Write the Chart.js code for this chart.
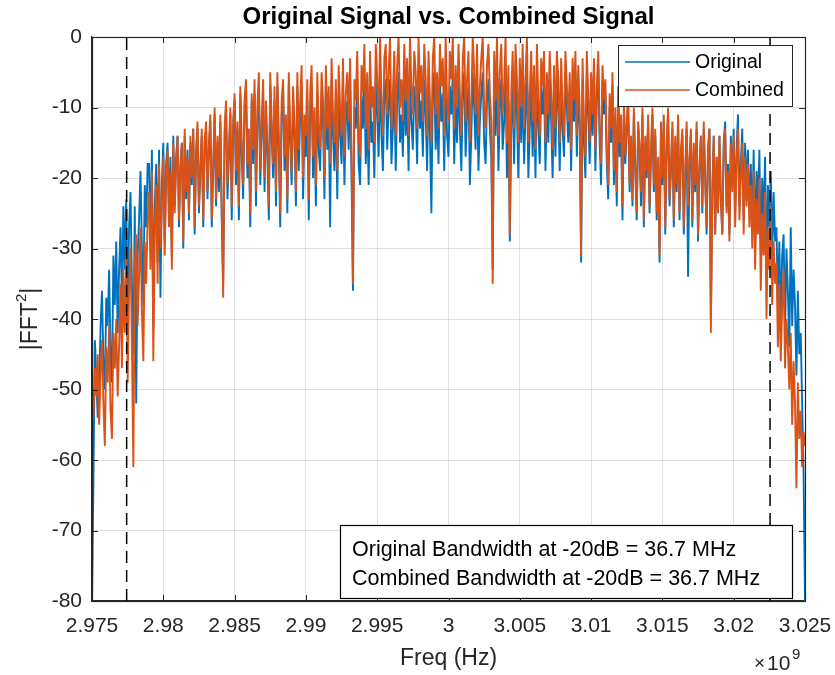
<!DOCTYPE html>
<html>
<head>
<meta charset="utf-8">
<script src="https://cdn.jsdelivr.net/npm/chart.js@4.4.1/dist/chart.umd.min.js"></script>
<style>
  body { margin: 0; background: #fff; }
  #wrap { width: 835px; height: 675px; }
</style>
</head>
<body>
<div id="wrap"><canvas id="fftChart" width="835" height="675"></canvas></div>
<script>
// frequency grid (FFT bins), Hz
var freqStart = 2.975e9;
var freqStep = 0.1e6;

// |FFT^2| in dB, original signal (2 MHz per row)
var original = [
  -80,-63,-43,-48,-54,-50,-41,-36,-46,-50,-37,-41,-33,-45,-49,-31,-38,-29,-42,-33,
  -27,-38,-24,-33,-23,-40,-27,-22,-35,-45,-24,-52,-31,-26,-19,-30,-38,-21,-27,-18,
  -18,-29,-16,-41,-24,-18,-32,-16,-37,-21,-15,-29,-18,-15,-26,-17,-31,-14,-24,-17,
  -14,-27,-18,-15,-30,-14,-23,-16,-26,-15,-21,-13,-28,-17,-13,-25,-19,-14,-27,-15,
  -13,-23,-16,-12,-27,-19,-11,-24,-15,-22,-12,-26,-35,-14,-10,-23,-17,-11,-26,-13,
  -9,-21,-13,-26,-8,-17,-23,-10,-7,-20,-15,-27,-9,-18,-8,-24,-12,-7,-21,-14,
  -8,-22,-11,-17,-26,-7,-14,-20,-9,-24,-7,-16,-27,-11,-8,-19,-13,-25,-7,-15,
  -21,-9,-14,-24,-7,-19,-11,-7,-23,-13,-17,-9,-26,-11,-7,-20,-13,-24,-8,-16,
  -19,-8,-12,-23,-7,-16,-10,-27,-6,-14,-19,-9,-23,-8,-14,-18,-7,-21,-12,-9,
  -16,-7,-20,-36,-10,-13,-6,-18,-21,-8,-13,-6,-18,-10,-21,-7,-15,-12,-20,-6,
  -11,-17,-5,-14,-19,-8,-6,-16,-10,-6,-18,-13,-7,-19,-9,-5,-15,-11,-17,-6,
  -14,-8,-19,-6,-12,-16,-7,-10,-18,-5,-13,-9,-17,-6,-11,-19,-7,-14,-25,-8,
  -5,-16,-10,-18,-6,-12,-8,-19,-6,-14,-17,-7,-11,-5,-18,-9,-15,-6,-13,-19,
  -8,-5,-17,-11,-7,-21,-14,-5,-10,-16,-6,-19,-12,-8,-5,-15,-18,-9,-6,-13,
  -17,-33,-7,-14,-5,-19,-10,-6,-16,-12,-5,-20,-9,-29,-13,-7,-18,-6,-11,-20,
  -8,-15,-6,-18,-11,-5,-20,-13,-7,-17,-9,-20,-6,-13,-18,-7,-11,-6,-19,-9,
  -15,-6,-12,-20,-8,-17,-6,-10,-19,-7,-13,-17,-5,-10,-15,-8,-19,-6,-12,-5,
  -17,-7,-13,-32,-6,-15,-20,-5,-11,-18,-8,-14,-5,-19,-9,-4,-15,-21,-6,-11,
  -8,-18,-23,-10,-15,-7,-21,-12,-24,-9,-17,-13,-26,-11,-18,-13,-10,-22,-15,-24,
  -11,-19,-26,-13,-16,-24,-11,-27,-15,-20,-12,-25,-17,-11,-22,-14,-26,-18,-32,-13,
  -21,-12,-28,-16,-11,-24,-19,-13,-27,-15,-22,-12,-26,-17,-14,-28,-20,-13,-34,-18,
  -14,-27,-16,-22,-13,-29,-19,-14,-25,-13,-20,-28,-16,-13,-40,-22,-14,-28,-17,-25,
  -14,-23,-28,-15,-12,-24,-18,-28,-14,-21,-13,-25,-16,-11,-24,-18,-13,-26,-15,-22,
  -16,-25,-18,-27,-16,-30,-19,-24,-16,-31,-20,-26,-17,-34,-21,-27,-19,-31,-22,-29,
  -27,-38,-29,-40,-31,-28,-42,-30,-36,-44,-27,-41,-33,-38,-48,-36,-45,-42,-52,-62,
  -80
];

// |FFT^2| in dB, combined signal
var combined = [
  -49,-54,-47,-51,-45,-55,-48,-43,-52,-58,-44,-49,-41,-53,-57,-42,-47,-40,-51,-44,
  -35,-47,-33,-42,-31,-49,-36,-30,-44,-61,-32,-28,-41,-34,-27,-39,-46,-29,-35,-26,
  -22,-33,-19,-46,-28,-21,-35,-18,-30,-24,-17,-31,-20,-16,-27,-19,-33,-15,-25,-18,
  -14,-26,-19,-15,-29,-13,-22,-17,-25,-14,-20,-13,-27,-16,-12,-24,-18,-13,-26,-15,
  -12,-22,-15,-11,-26,-18,-10,-23,-14,-20,-11,-25,-37,-13,-9,-21,-16,-10,-24,-12,
  -8,-19,-12,-24,-7,-15,-21,-9,-6,-18,-13,-25,-8,-16,-6,-22,-10,-5,-19,-12,
  -6,-20,-9,-15,-24,-5,-12,-18,-7,-22,-5,-14,-25,-9,-6,-17,-11,-23,-5,-13,
  -19,-7,-12,-22,-5,-16,-9,-4,-20,-11,-14,-6,-23,-8,-4,-17,-10,-21,-5,-13,
  -16,-5,-9,-20,-4,-13,-7,-18,-3,-11,-15,-6,-19,-4,-10,-14,-3,-17,-8,-5,
  -12,-3,-16,-35,-6,-9,-2,-14,-17,-4,-8,-1,-13,-5,-16,-2,-10,-7,-15,-1,
  -6,-12,0,-9,-14,-3,-1,-11,-5,0,-13,-8,-2,-14,-4,0,-10,-6,-12,-1,
  -9,-3,-14,0,-7,-11,-2,-5,-13,0,-8,-4,-12,-1,-6,-14,-2,-9,-15,-3,
  0,-11,-5,-13,-1,-7,-3,-14,0,-9,-12,-2,-6,0,-13,-4,-10,-1,-8,-14,
  -3,0,-12,-6,-2,-15,-9,0,-5,-11,-1,-14,-7,-3,0,-10,-13,-4,-1,-8,
  -12,-35,-2,-9,0,-14,-5,-1,-11,-7,0,-15,-4,-28,-8,-2,-13,-1,-6,-15,
  -3,-10,-1,-13,-6,0,-15,-8,-2,-12,-4,-16,-1,-9,-14,-3,-7,-2,-15,-5,
  -11,-2,-8,-16,-4,-13,-2,-6,-15,-3,-10,-14,-2,-7,-12,-5,-16,-3,-9,-2,
  -14,-4,-10,-31,-3,-12,-17,-2,-8,-15,-5,-11,-3,-16,-7,-2,-13,-18,-4,-9,
  -6,-16,-21,-8,-13,-5,-19,-10,-22,-7,-15,-11,-24,-9,-17,-12,-8,-21,-14,-23,
  -10,-18,-25,-12,-15,-22,-10,-26,-14,-19,-11,-24,-16,-10,-21,-13,-25,-17,-31,-12,
  -20,-11,-27,-15,-10,-23,-18,-12,-26,-14,-21,-11,-25,-16,-13,-27,-19,-12,-24,-17,
  -13,-26,-15,-21,-12,-28,-18,-14,-24,-12,-20,-27,-16,-13,-42,-22,-14,-28,-17,-25,
  -14,-23,-28,-16,-13,-25,-19,-29,-15,-22,-14,-27,-18,-13,-26,-20,-15,-28,-17,-24,
  -18,-27,-21,-30,-19,-33,-23,-28,-20,-36,-25,-31,-22,-40,-27,-33,-24,-38,-29,-35,
  -32,-44,-35,-46,-38,-33,-47,-40,-44,-50,-42,-55,-46,-52,-64,-49,-57,-53,-61,-56,
  -58
];

// -20 dB bandwidth edges, Hz
var bwEdges = [2.97743e9, 3.02255e9];

var xTicks = [2.975, 2.98, 2.985, 2.99, 2.995, 3, 3.005, 3.01, 3.015, 3.02, 3.025];
var yTicks = [0, -10, -20, -30, -40, -50, -60, -70, -80];

var infoLines = [
  'Original Bandwidth at -20dB = 36.7 MHz',
  'Combined Bandwidth at -20dB = 36.7 MHz'
];

var FONT = 'Arial, "Liberation Sans", Helvetica, sans-serif';
var TXT = '#262626';

function toPoints(vals) {
  return vals.map(function (v, i) { return { x: freqStart + i * freqStep, y: v }; });
}

var dashSets = bwEdges.map(function (e) {
  return {
    label: 'edge',
    data: [{ x: e, y: -80 }, { x: e, y: 0 }],
    borderColor: '#000',
    borderWidth: 1.5,
    borderDash: [12, 7],
    pointRadius: 0,
    order: 0
  };
});

// axes box, inward ticks, titles, legend and the text box
var decorPlugin = {
  id: 'decor',
  afterDraw: function (chart) {
    var ctx = chart.ctx, a = chart.chartArea;
    var xs = chart.scales.x, ys = chart.scales.y;
    ctx.save();
    // inward tick marks
    ctx.strokeStyle = TXT;
    ctx.lineWidth = 1;
    ctx.beginPath();
    xTicks.forEach(function (t) {
      var px = Math.round(xs.getPixelForValue(t * 1e9)) + 0.5;
      ctx.moveTo(px, a.bottom); ctx.lineTo(px, a.bottom - 6);
      ctx.moveTo(px, a.top); ctx.lineTo(px, a.top + 6);
    });
    yTicks.forEach(function (t) {
      var py = Math.round(ys.getPixelForValue(t)) + 0.5;
      ctx.moveTo(a.left, py); ctx.lineTo(a.left + 6, py);
      ctx.moveTo(a.right, py); ctx.lineTo(a.right - 6, py);
    });
    ctx.stroke();
    // box
    ctx.lineWidth = 1.2;
    ctx.strokeRect(a.left + 0.5, a.top + 0.5, a.right - a.left, a.bottom - a.top);

    // title
    ctx.fillStyle = '#000';
    ctx.font = 'bold 24px ' + FONT;
    ctx.textAlign = 'center';
    ctx.textBaseline = 'middle';
    ctx.fillText('Original Signal vs. Combined Signal', (a.left + a.right) / 2, 17);

    // x label and exponent
    ctx.fillStyle = TXT;
    ctx.font = '23px ' + FONT;
    ctx.fillText('Freq (Hz)', (a.left + a.right) / 2, 659);
    ctx.textAlign = 'left';
    ctx.font = '19px ' + FONT;
    ctx.fillText('\u00d7', 754, 664);
    ctx.font = '21px ' + FONT;
    ctx.fillText('10', 767, 664);
    ctx.font = '15px ' + FONT;
    ctx.fillText('9', 792, 655);

    // y label |FFT^2|
    ctx.save();
    ctx.translate(31, (a.top + a.bottom) / 2);
    ctx.rotate(-Math.PI / 2);
    ctx.textBaseline = 'middle';
    ctx.textAlign = 'left';
    ctx.font = '23px ' + FONT;
    var w1 = ctx.measureText('|FFT').width;
    ctx.font = '15px ' + FONT;
    var w2 = ctx.measureText('2').width;
    ctx.font = '23px ' + FONT;
    var w3 = ctx.measureText('|').width;
    var sx = -(w1 + w2 + w3) / 2;
    ctx.fillText('|FFT', sx, 0);
    ctx.font = '15px ' + FONT;
    ctx.fillText('2', sx + w1, -9);
    ctx.font = '23px ' + FONT;
    ctx.fillText('|', sx + w1 + w2, 0);
    ctx.restore();

    // legend
    var lx = a.right - 187, ly = a.top + 8, lw = 174, lh = 61;
    ctx.fillStyle = '#fff';
    ctx.fillRect(lx, ly, lw, lh);
    ctx.strokeStyle = '#262626';
    ctx.lineWidth = 1;
    ctx.strokeRect(lx + 0.5, ly + 0.5, lw, lh);
    var items = [['Original', '#0072BD'], ['Combined', '#D95319']];
    items.forEach(function (it, k) {
      var yy = ly + 17 + k * 28;
      ctx.strokeStyle = it[1];
      ctx.lineWidth = 1.5;
      ctx.beginPath();
      ctx.moveTo(lx + 7, yy); ctx.lineTo(lx + 72, yy);
      ctx.stroke();
      ctx.fillStyle = '#000';
      ctx.font = '19.5px ' + FONT;
      ctx.textAlign = 'left';
      ctx.textBaseline = 'middle';
      ctx.fillText(it[0], lx + 77, yy + 1);
    });

    // bandwidth text box
    var bx = a.left + 248, by = a.bottom - 76, bw = a.right - 13 - bx, bh = 73;
    ctx.fillStyle = '#fff';
    ctx.fillRect(bx, by, bw, bh);
    ctx.strokeStyle = '#000';
    ctx.lineWidth = 1.2;
    ctx.strokeRect(bx + 0.5, by + 0.5, bw, bh);
    ctx.fillStyle = '#000';
    ctx.font = '21.5px ' + FONT;
    infoLines.forEach(function (s, k) {
      ctx.fillText(s, bx + 12, by + 25 + k * 29);
    });
    ctx.restore();
  }
};

var ctx1 = document.getElementById('fftChart');

var fftChart = new Chart(ctx1, {
  type: 'line',
  data: {
    datasets: dashSets.concat([
      {
        label: 'Combined',
        data: toPoints(combined),
        borderColor: '#D95319',
        borderWidth: 1.9,
        pointRadius: 0,
        tension: 0,
        order: 1
      },
      {
        label: 'Original',
        data: toPoints(original),
        borderColor: '#0072BD',
        borderWidth: 1.9,
        pointRadius: 0,
        tension: 0,
        order: 2
      }
    ])
  },
  options: {
    responsive: false,
    animation: false,
    parsing: false,
    layout: { padding: { top: 37, right: 30, left: 0, bottom: 0 } },
    plugins: {
      legend: { display: false },
      tooltip: { enabled: false },
      title: { display: false }
    },
    scales: {
      x: {
        type: 'linear',
        min: 2.975e9,
        max: 3.025e9,
        afterBuildTicks: function (s) {
          s.ticks = xTicks.map(function (t) { return { value: t * 1e9 }; });
        },
        afterFit: function (s) {
          s.height = 74;
          s.paddingLeft = 0;
          s.paddingRight = 0;
        },
        grid: { color: 'rgba(0,0,0,0.12)', drawTicks: false },
        border: { color: TXT, width: 1.2 },
        ticks: {
          padding: 13,
          color: TXT,
          maxRotation: 0,
          autoSkip: false,
          font: { family: FONT, size: 21 },
          callback: function (v) { return String(+(v / 1e9).toFixed(3)); }
        }
      },
      y: {
        min: -80,
        max: 0,
        afterBuildTicks: function (s) {
          s.ticks = yTicks.map(function (t) { return { value: t }; });
        },
        afterFit: function (s) {
          s.width = 92;
          s.paddingTop = 0;
          s.paddingBottom = 0;
        },
        grid: { color: 'rgba(0,0,0,0.12)', drawTicks: false },
        border: { color: TXT, width: 1.2 },
        ticks: {
          padding: 10,
          color: TXT,
          font: { family: FONT, size: 21 }
        }
      }
    }
  },
  plugins: [decorPlugin]
});
</script>
</body>
</html>
